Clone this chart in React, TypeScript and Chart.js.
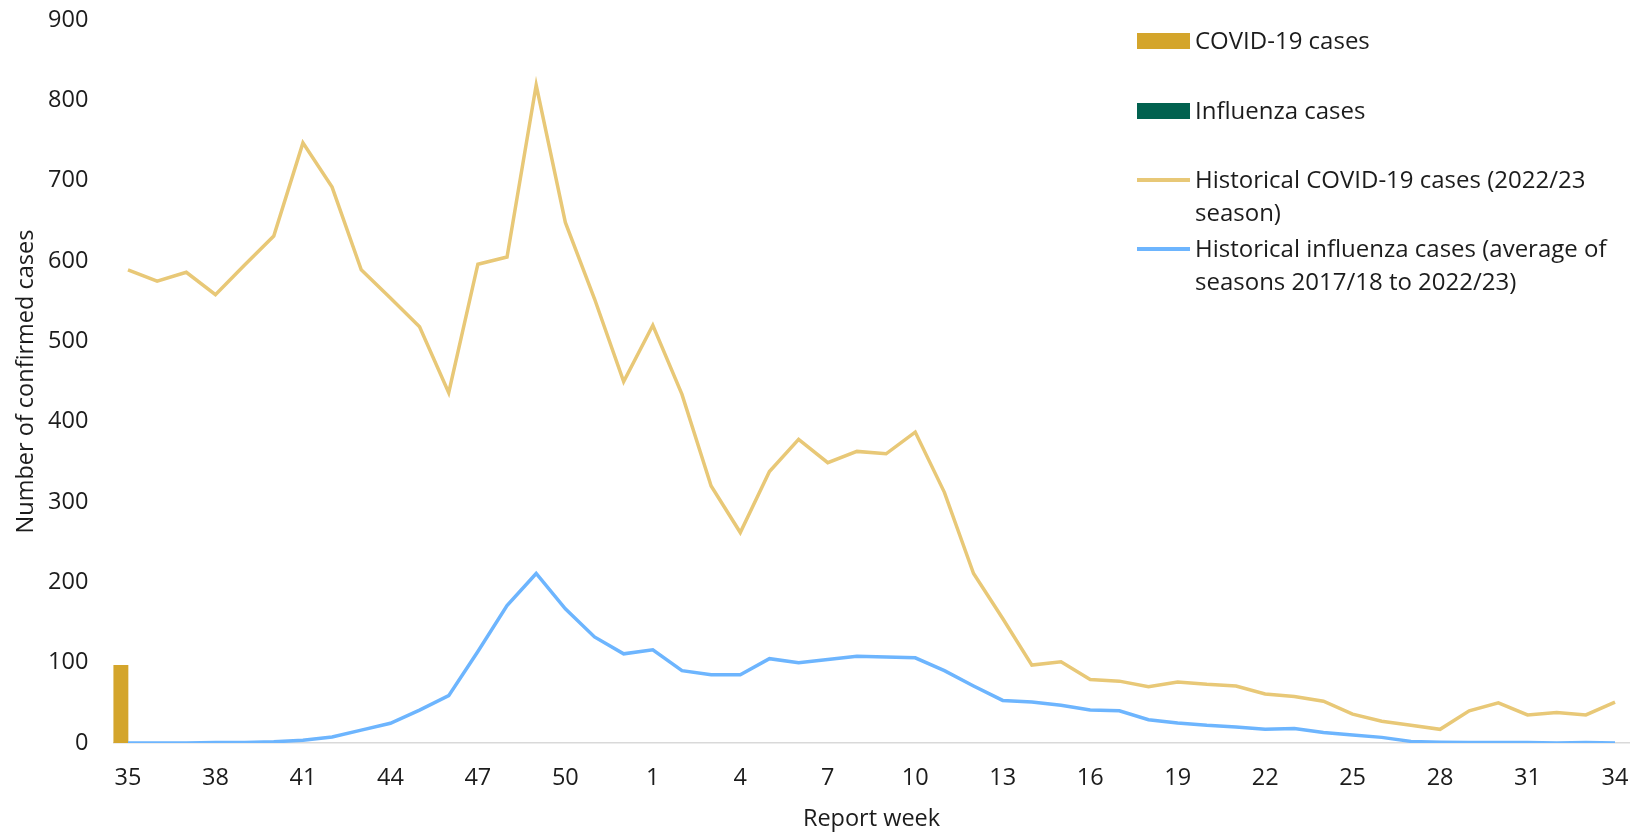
import React, { useEffect, useRef } from "react";
import { Chart, registerables } from "chart.js";

Chart.register(...registerables);

// Report weeks (season runs from week 35 to week 34 of the next year)
const weeks: string[] = [
  "35", "36", "37", "38", "39", "40", "41", "42", "43", "44", "45", "46", "47", "48", "49", "50", "51", "52",
  "1", "2", "3", "4", "5", "6", "7", "8", "9", "10", "11", "12", "13", "14", "15", "16", "17", "18", "19", "20",
  "21", "22", "23", "24", "25", "26", "27", "28", "29", "30", "31", "32", "33", "34",
];

// Weeks whose tick label is shown
const shownTicks: string[] = ["35", "38", "41", "44", "47", "50", "1", "4", "7", "10", "13", "16", "19", "22", "25", "28", "31", "34"];

const covidCases: (number | null)[] = [97];
const influenzaCases: (number | null)[] = [null];

const historicalCovid: number[] = [
  589, 575, 586, 558, 595, 631, 747, 692, 589, 554, 518, 436, 596, 605, 819, 648, 553, 450,
  520, 434, 320, 262, 338, 378, 349, 363, 360, 387, 312, 211, 155, 97, 101, 79, 77, 70, 76, 73,
  71, 61, 58, 52, 36, 27, 22, 17, 40, 50, 35, 38, 35, 51,
];

const historicalInfluenza: number[] = [
  0, 0, 0, 0.5, 0.5, 1.5, 3.5, 7.5, 16, 24.5, 41, 59, 114, 171, 211, 167, 132, 111,
  116, 90, 85, 85, 105, 100, 104, 108, 107, 106, 90, 71, 53, 51, 47, 41, 40, 29, 25, 22,
  20, 17, 18, 13, 10, 7, 2, 1, 0.5, 0.5, 0.5, 0, 0.5, 0,
];

const yTicks = { min: 0, max: 900, step: 100 };

const seriesNames: string[][] = [
  ["COVID-19 cases"],
  ["Influenza cases"],
  ["Historical COVID-19 cases (2022/23", "season)"],
  ["Historical influenza cases (average of", "seasons 2017/18 to 2022/23)"],
];

const colors = {
  covid: "#D4A52B",
  influenza: "#01614F",
  histCovid: "#E8C877",
  histInfluenza: "#6DB5FE",
  text: "#1c1c1c",
  axis: "#d9d9d9",
};

const FONT = "'Open Sans', 'Noto Sans', sans-serif";
const FS = 23.5;
const LEGEND_FS = 24;

export default function App() {
  const ref = useRef<HTMLCanvasElement | null>(null);

  useEffect(() => {
    if (!ref.current) return;
    const chart = new Chart(ref.current, {
      type: "bar",
      data: {
        labels: weeks,
        datasets: [
          {
            type: "line",
            label: seriesNames[2].join(" "),
            data: historicalCovid,
            borderColor: colors.histCovid,
            backgroundColor: colors.histCovid,
            borderWidth: 3.5,
            pointRadius: 0,
            tension: 0,
            order: 0,
          },
          {
            type: "line",
            label: seriesNames[3].join(" "),
            data: historicalInfluenza,
            borderColor: colors.histInfluenza,
            backgroundColor: colors.histInfluenza,
            borderWidth: 3.5,
            pointRadius: 0,
            tension: 0,
            order: 0,
          },
          {
            type: "bar",
            label: seriesNames[0].join(" "),
            data: covidCases,
            backgroundColor: colors.covid,
            categoryPercentage: 1,
            barPercentage: 1.05,
            order: 1,
          },
          {
            type: "bar",
            label: seriesNames[1].join(" "),
            data: influenzaCases,
            backgroundColor: colors.influenza,
            categoryPercentage: 1,
            barPercentage: 1.05,
            order: 1,
          },
        ],
      },
      options: {
        animation: false,
        responsive: true,
        maintainAspectRatio: false,
        layout: { padding: { top: 20, right: 9.4, left: 0, bottom: 0 } },
        plugins: {
          legend: { display: false },
          tooltip: { enabled: false },
        },
        scales: {
          x: {
            offset: true,
            grid: { display: false, drawTicks: false },
            border: { display: true, color: colors.axis, width: 1.5 },
            ticks: {
              autoSkip: false,
              maxRotation: 0,
              padding: 21,
              color: colors.text,
              font: { family: FONT, size: FS },
              callback: (_v: any, i: number) => (shownTicks.includes(weeks[i]) ? weeks[i] : ""),
            },
            title: {
              display: true,
              text: "Report week",
              color: colors.text,
              font: { family: FONT, size: FS },
              padding: { top: 0, bottom: 0 },
            },
            afterFit: (s: any) => {
              s.height = 90;
              s.paddingLeft = 0;
              s.paddingRight = 0;
            },
          },
          y: {
            min: yTicks.min,
            max: yTicks.max,
            grid: { display: false, drawTicks: false },
            border: { display: false },
            ticks: {
              stepSize: yTicks.step,
              padding: 25,
              color: colors.text,
              font: { family: FONT, size: FS },
            },
            title: {
              display: true,
              text: "Number of confirmed cases",
              color: colors.text,
              font: { family: FONT, size: FS },
              padding: { top: 12, bottom: 0 },
            },
            afterFit: (s: any) => {
              s.width = 113.4;
              s.paddingTop = 0;
              s.paddingBottom = 0;
            },
          },
        },
      },
    });
    return () => chart.destroy();
  }, []);

  const legendItems = [
    { kind: "box", color: colors.covid, center: 41, lines: seriesNames[0] },
    { kind: "box", color: colors.influenza, center: 111, lines: seriesNames[1] },
    { kind: "line", color: colors.histCovid, center: 180, lines: seriesNames[2] },
    { kind: "line", color: colors.histInfluenza, center: 249, lines: seriesNames[3] },
  ];
  const LH = 33;

  return (
    <div style={{ position: "fixed", left: 0, top: 0, width: 1639, height: 833, background: "#fff" }}>
      <canvas ref={ref} />
      {legendItems.map((it, k) => (
        <div key={k}>
          <div
            style={{
              position: "absolute",
              left: 1137,
              width: 53,
              top: it.kind === "box" ? it.center - 8 : it.center - 1.75,
              height: it.kind === "box" ? 16 : 3.5,
              background: it.color,
            }}
          />
          <div
            style={{
              position: "absolute",
              left: 1195,
              top: it.center - LH / 2 - 2,
              fontFamily: FONT,
              fontSize: LEGEND_FS,
              lineHeight: LH + "px",
              color: colors.text,
              whiteSpace: "pre",
            }}
          >
            {it.lines.join("\n")}
          </div>
        </div>
      ))}
    </div>
  );
}
